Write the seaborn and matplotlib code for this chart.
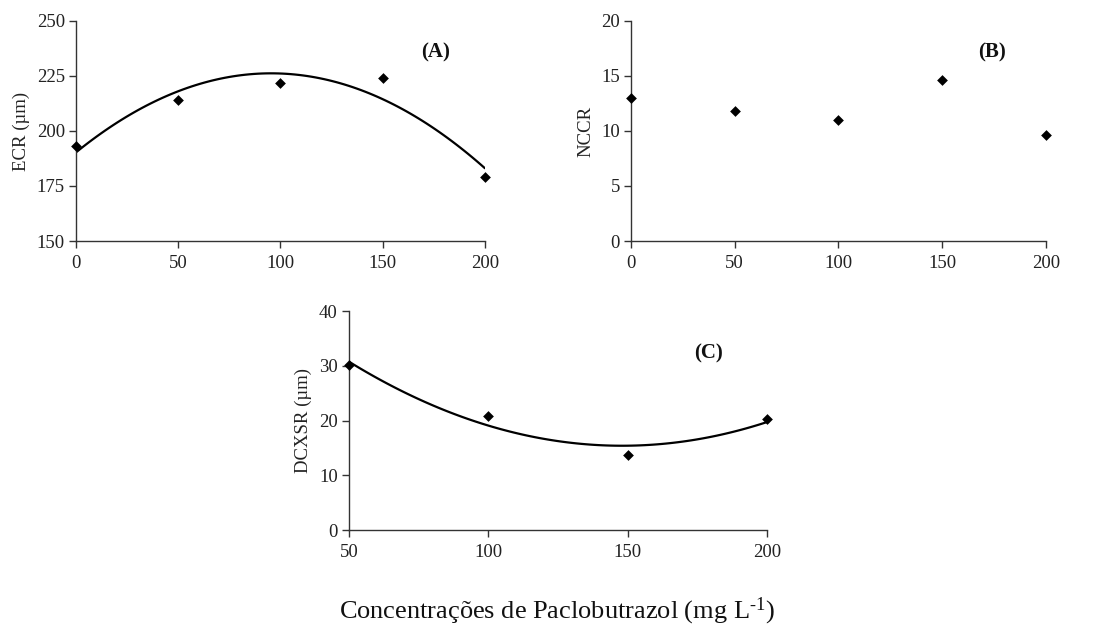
import numpy as np
import pandas as pd
import matplotlib
matplotlib.use("Agg")
import matplotlib.pyplot as plt
import seaborn as sns

# Data
conc_ab = [0, 50, 100, 150, 200]
ecr = [193, 214, 222, 224, 179]
nccr = [13.0, 11.8, 11.0, 14.6, 9.6]
conc_c = [50, 100, 150, 200]
dcxsr = [30.2, 20.8, 13.7, 20.3]

xlabel = "Concentrações de Paclobutrazol (mg L$^{\\text{-1}}$)"

sns.set_theme(style="ticks")
plt.rcParams['font.family'] = ['Liberation Serif', 'DejaVu Serif']
plt.rcParams['mathtext.fontset'] = 'custom'
plt.rcParams['mathtext.rm'] = 'Liberation Serif'
plt.rcParams['mathtext.default'] = 'regular'
plt.rcParams['axes.edgecolor'] = '#333333'
plt.rcParams['xtick.color'] = '#333333'
plt.rcParams['ytick.color'] = '#333333'

fig = plt.figure(figsize=(11.05, 6.27), dpi=100)
axA = fig.add_axes([0.0688, 0.6156, 0.370, 0.351])
axB = fig.add_axes([0.571, 0.6156, 0.3756, 0.351])
axC = fig.add_axes([0.3158, 0.1547, 0.3783, 0.349])

dfA = pd.DataFrame({"x": conc_ab, "y": ecr})
dfB = pd.DataFrame({"x": conc_ab, "y": nccr})
dfC = pd.DataFrame({"x": conc_c, "y": dcxsr})

mk = dict(marker='D', s=30, color='black', edgecolor='black', linewidth=0, zorder=3)

sns.regplot(data=dfA, x="x", y="y", order=2, ci=None, scatter=False, ax=axA,
            line_kws=dict(color='black', linewidth=1.6), truncate=True)
sns.scatterplot(data=dfA, x="x", y="y", ax=axA, **mk)
sns.scatterplot(data=dfB, x="x", y="y", ax=axB, **mk)
sns.regplot(data=dfC, x="x", y="y", order=2, ci=None, scatter=False, ax=axC,
            line_kws=dict(color='black', linewidth=1.6), truncate=True)
sns.scatterplot(data=dfC, x="x", y="y", ax=axC, **mk)

settings = [
    (axA, (0, 200), [0, 50, 100, 150, 200], (150, 250), [150, 175, 200, 225, 250], "ECR (µm)", "(A)", (176, 235.5)),
    (axB, (0, 200), [0, 50, 100, 150, 200], (0, 20), [0, 5, 10, 15, 20], "NCCR", "(B)", (174, 17.1)),
    (axC, (50, 200), [50, 100, 150, 200], (0, 40), [0, 10, 20, 30, 40], "DCXSR (µm)", "(C)", (179, 32.3)),
]
for ax, xl, xt, yl, yt, ylab, tag, tpos in settings:
    ax.set_xlim(*xl)
    ax.set_ylim(*yl)
    ax.set_xticks(xt)
    ax.set_yticks(yt)
    ax.set_xlabel("")
    ax.set_ylabel(ylab, fontsize=13.5, color='#222222', labelpad=5)
    ax.tick_params(labelsize=13.5, length=5, width=1, labelcolor='#222222')
    ax.tick_params(axis='x', pad=5)
    ax.tick_params(axis='y', pad=3)
    for s in ['top', 'right']:
        ax.spines[s].set_visible(False)
    for s in ['left', 'bottom']:
        ax.spines[s].set_linewidth(1)
    ax.text(tpos[0], tpos[1], tag, fontsize=15, fontweight='bold', ha='center', va='center', color='#111111')
    for c in ax.collections:
        c.set_clip_on(False)

fig.text(0.504, 0.0255, xlabel, fontsize=19, ha='center', va='center', color='#111111')

fig.savefig("out.png", dpi=100)
